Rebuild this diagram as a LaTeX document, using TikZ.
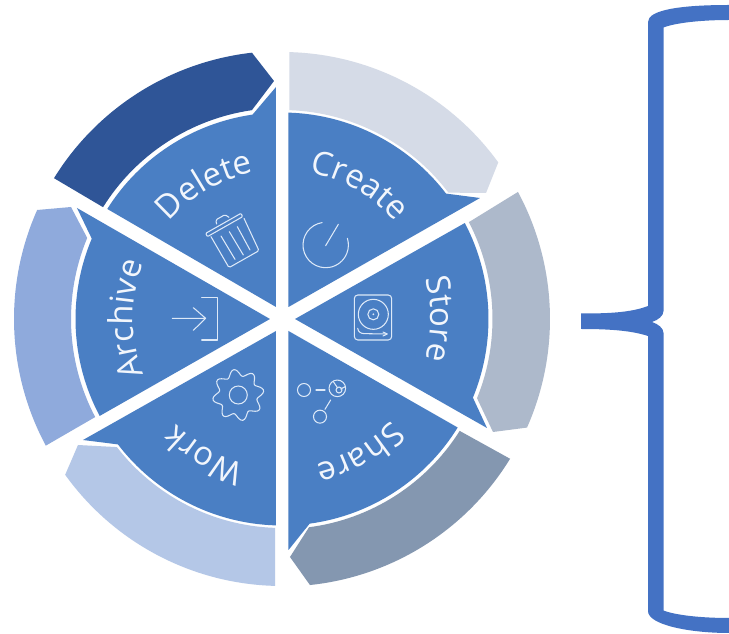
\documentclass[tikz,border=0pt]{standalone}
\usepackage{fontspec}
\usetikzlibrary{decorations.text}
\newfontfamily\ringfont{Open Sans}
\definecolor{wedgeblue}{HTML}{4A7FC4}
\definecolor{bandcreate}{HTML}{D5DBE7}
\definecolor{bandstore}{HTML}{ADB9CB}
\definecolor{bandshare}{HTML}{8497B0}
\definecolor{bandwork}{HTML}{B4C7E7}
\definecolor{bandarchive}{HTML}{8FAADC}
\definecolor{banddelete}{HTML}{2F5597}
\definecolor{bracecol}{HTML}{4472C4}
\definecolor{iconcol}{HTML}{DDE9F8}
\definecolor{labelcol}{HTML}{F2F6FC}
\tikzset{
  wedge/.style={fill=wedgeblue},
  icon/.style={draw=iconcol,line width=1.05pt,line cap=round,line join=round},
  iconbox/.style={shift={#1},x=0.33333pt,y=-0.33333pt},
}
\newcommand{\ringtext}[2]{%
  \path[decorate,decoration={text along path,text align=center,
    text={|\fontsize{33}{33}\selectfont\ringfont\color{labelcol}|#2}}]
    (#1+60:149) arc[start angle=#1+60,end angle=#1-60,radius=149];}
\begin{document}
\begin{tikzpicture}[x=1pt,y=1pt]
\useasboundingbox (-282,-315) rectangle (447,319);
\fill[white] (-282,-315) rectangle (447,319);
% outer bands
\fill[bandcreate] (88.4:267) arc (88.4:35.9:267) -- (204,126) -- (37.2:209) arc (37.2:88:209) -- cycle;
\fill[bandstore] (28.3:268) arc (28.3:-23.9:268) -- (211,-113) -- (-22.1:210.5) arc (-22.1:27.4:210.5) -- cycle;
\fill[bandshare] (-31.5:267.5) arc (-31.5:-84:267.5) -- (8,-238) -- (-82.6:210) arc (-82.6:-32.2:210) -- cycle;
\fill[bandwork] (268.5:267) arc (268.5:215.7:267) -- (-204,-126) -- (217.8:209) arc (217.8:268.1:209) -- cycle;
\fill[bandarchive] (156:268) arc (156:208.2:268) -- (207.7:211) arc (207.7:157.4:211) -- (-211,112) -- cycle;
\fill[banddelete] (96.4:267.7) -- (-8,238) -- (98.2:211) arc (98.2:148:211) -- (148.3:268) arc (148.3:96.4:268) -- cycle;
% wedges
\fill[wedge] (6.5,12) -- (88.2:206.5) arc (88.2:37.4:206.5) -- (198,121) -- cycle;
\fill[wedge] (13,0) -- (27.7:206.5) arc (27.7:-22.4:206.5) -- (205,-109) -- cycle;
\fill[wedge] (6.5,-12) -- (-31.7:206.5) arc (-31.7:-82.3:206.5) -- (6.5,-231) -- cycle;
\fill[wedge] (-6,-12) -- (268.3:206.5) arc (268.3:217.4:206.5) -- (-199,-121) -- cycle;
\fill[wedge] (-12,0) -- (208:206.5) arc (208:157.1:206.5) -- (-205,111) -- cycle;
\fill[wedge] (-6,12) -- (-6,232) -- (98.2:206.5) arc (98.2:147.8:206.5) -- cycle;
% labels
\ringtext{60}{Create}
\ringtext{0}{Store}
\ringtext{-60}{Share}
\ringtext{-120}{Work}
\ringtext{180}{Archive}
\ringtext{120}{Delete}
% trash
\begin{scope}[iconbox={(-87,119)}]
\draw[icon,rounded corners=1pt] (32,100)--(138,40)--(143,50)--(37,110)--cycle;
\draw[icon,rounded corners=1.5pt] (48,110)--(102,203)--(192,152)--(147,55);
\draw[icon,rounded corners=1.5pt] (65,72)--(62,60)--(90,44)--(102,52);
\draw[icon] (78,108)--(120,178) (103,95)--(145,165) (127,80)--(165,150);
\end{scope}
% power
\draw[icon] ([shift={(43.7,74)}]99:22.7) arc (99:377:22.7);
\begin{scope}[iconbox={(13,109)}]
\draw[icon] (92,107)--(130,43);
\end{scope}
% disc
\begin{scope}[iconbox={(63,34)}]
\draw[icon,rounded corners=3.5pt] (28,30) rectangle (140,165);
\draw[icon] (85,88) circle[radius=15pt];
\draw[icon] (85,88) circle[radius=5.5pt];
\fill[iconcol] (85,88) circle[radius=1pt];
\draw[icon] (38,130) .. controls (40,142) and (48,146) .. (60,146) -- (125,147);
\draw[icon] (114,141)--(127,147)--(114,153);
\end{scope}
% share
\begin{scope}[iconbox={(8,-51)}]
\draw[icon] (42,60) circle[radius=6.5pt];
\draw[icon] (78,60)--(105,60);
\draw[icon] (142,55) circle[radius=8.3pt];
\draw[icon] (147,60) circle[radius=3pt];
\draw[icon] (130,35)--(143,54) (166,50)--(152,57);
\draw[icon] (122,90)--(105,118);
\draw[icon] (90,140) circle[radius=6.5pt];
\end{scope}
% gear
\draw[icon] plot[smooth cycle,domain=0:356,samples=90,variable=\t] ({-43.7+(22.4+3.3*cos(8*(\t-100)))*cos(\t)},{-76+(22.4+3.3*cos(8*(\t-100)))*sin(\t)});
\draw[icon] (-43.7,-76) circle[radius=9];
% archive
\begin{scope}[iconbox={(-117,24)}]
\draw[icon] (22,70)--(120,70) (85,38)--(122,70)--(85,106);
\draw[icon] (110,8)--(158,8)--(158,135)--(110,135);
\end{scope}
% brace
\begin{scope}[shift={(-282,319)},y=-1pt]
\fill[bracecol] (729,5) .. controls (680,5) and (648,10) .. (648,22) -- (648,306)
  .. controls (630,313) and (605,313.5) .. (581,313.5) -- (581,329)
  .. controls (605,329) and (630,330) .. (648,336) -- (648,611)
  .. controls (648,625) and (690,633) .. (729,633) -- (729,618)
  .. controls (700,618) and (675,615) .. (663.5,610.5) -- (663.5,333)
  .. controls (663.5,328) and (658,324) .. (652,322)
  .. controls (658,320) and (663.5,316) .. (663.5,311) -- (663.5,27.5)
  .. controls (675,23) and (700,20) .. (729,20) -- cycle;
\end{scope}
\end{tikzpicture}
\end{document}
